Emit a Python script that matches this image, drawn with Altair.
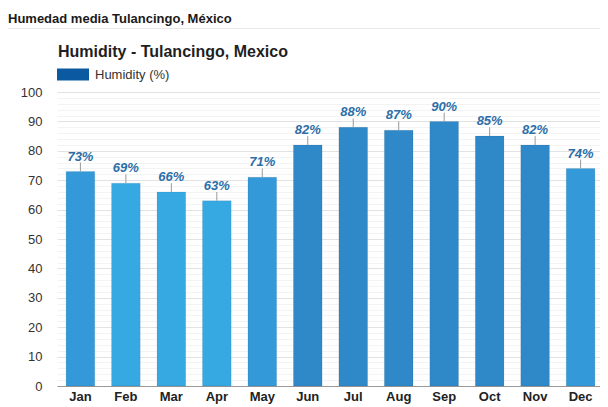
import altair as alt
import pandas as pd

# ---- data ----
months = ["Jan", "Feb", "Mar", "Apr", "May", "Jun", "Jul", "Aug", "Sep", "Oct", "Nov", "Dec"]
humidity = [73, 69, 66, 63, 71, 82, 88, 87, 90, 85, 82, 74]
upper = [76, 72, 69, 66, 74, 85, 91, 90, 93, 88, 85, 77]
series_name = ["Humidity (%)"]
header_text = ["Humedad media Tulancingo, México"]
chart_title = ["Humidity - Tulancingo, Mexico"]

df = pd.DataFrame({"month": months, "humidity": humidity, "upper": upper})
df["label"] = [f"{v}%" for v in humidity]

FONT = "Liberation Sans, Arial, Helvetica, sans-serif"
VIEW_W = 543      # visible part of the plot area
RANGE_W = 547     # band range of the x scale
H = 294

LIGHT = "#36a9e3"
MID = "#3399d8"
DARK = "#2f88c8"

xenc = alt.X(
    "month:N",
    sort=months,
    title=None,
    scale=alt.Scale(range=[0, RANGE_W], paddingInner=0.37, paddingOuter=0.2),
    axis=alt.Axis(
        labelFont=FONT, labelFontSize=13, labelFontWeight="bold", labelColor="#222222",
        labelPadding=4, ticks=False, tickSize=0, domainColor="#9a9a9a", domainWidth=1,
        labelAngle=0, grid=False,
    ),
)

yaxis = alt.Axis(
    values=list(range(0, 101, 2)),
    labelExpr="datum.value % 10 === 0 ? datum.label : ''",
    labelOverlap=False,
    gridColor={"condition": {"test": "datum.value % 10 === 0", "value": "#e2e2e2"}, "value": "#f3f3f3"},
    domain=False, ticks=False, tickSize=0, labelPadding=15,
    labelFont=FONT, labelFontSize=13, labelColor="#333333",
)
yscale = alt.Scale(domain=[0, 100], nice=False)

base = alt.Chart(df)

bars = base.mark_bar(stroke="#000000", strokeOpacity=0.08, strokeWidth=1).encode(
    x=xenc,
    y=alt.Y("humidity:Q", title=None, scale=yscale, axis=yaxis),
    color=alt.Color(
        "humidity:Q",
        scale=alt.Scale(type="threshold", domain=[70, 80], range=[LIGHT, MID, DARK]),
        legend=None,
    ),
)

whiskers = base.mark_rule(color="#9a9a9a", strokeWidth=1).encode(
    x=xenc,
    y=alt.Y("humidity:Q", title=None, scale=yscale, axis=yaxis),
    y2="upper:Q",
)

labels = base.mark_text(
    baseline="alphabetic", dy=-2, font=FONT, fontSize=13, fontWeight="bold",
    fontStyle="italic", color="#2c6ea8",
).encode(
    x=xenc,
    y=alt.Y("upper:Q", title=None, scale=yscale, axis=yaxis),
    text="label:N",
)

legend_layer = alt.Chart(pd.DataFrame({"series": series_name})).mark_point(
    filled=True, opacity=0
).encode(
    fill=alt.Fill(
        "series:N",
        scale=alt.Scale(range=["#0b5aa1"]),
        legend=alt.Legend(
            orient="none", legendX=0, legendY=-33.5, title=None, padding=0,
            symbolType="M-1,-0.375H1V0.375H-1Z", symbolSize=1024,
            symbolOpacity=1, symbolStrokeWidth=0, symbolFillColor="#0b5aa1",
            labelFont=FONT, labelFontSize=13, labelColor="#333333", labelOffset=6,
        ),
    )
)

header = alt.Chart(pd.DataFrame({"t": header_text})).mark_text(
    align="left", baseline="alphabetic", font=FONT, fontSize=13, fontWeight="bold", color="#1a1a1a"
).encode(x=alt.value(-49), y=alt.value(-69.5), text="t:N")

separator = alt.Chart(pd.DataFrame({"t": header_text})).mark_rule(color="#e8e8e8", strokeWidth=1).encode(
    x=alt.value(-49), x2=alt.value(VIEW_W), y=alt.value(-63.5)
)

title = alt.Chart(pd.DataFrame({"t": chart_title})).mark_text(
    align="left", baseline="alphabetic", font=FONT, fontSize=16, fontWeight="bold", color="#1f1f1f"
).encode(x=alt.value(1), y=alt.value(-35.5), text="t:N")

chart = alt.layer(bars, whiskers, labels, legend_layer, header, separator, title).properties(
    width=VIEW_W,
    height=H,
    autosize=alt.AutoSizeParams(type="none"),
    padding={"left": 49, "top": 84, "right": 0, "bottom": 21},
    background="#ffffff",
).configure_view(stroke=None)

chart.save("out.html", embed_options={"renderer": "svg", "actions": False})
